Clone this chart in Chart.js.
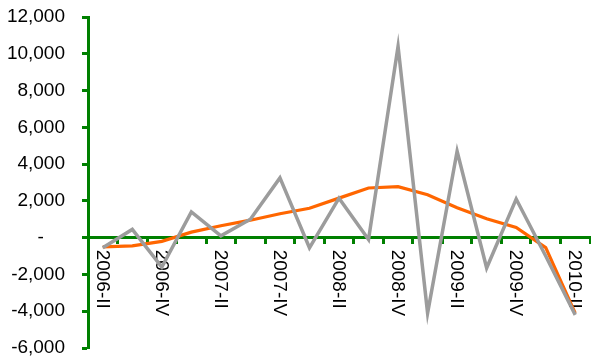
<!DOCTYPE html>
<html>
<head>
<meta charset="utf-8">
<script src="https://cdn.jsdelivr.net/npm/chart.js@4"></script>
<style>
    html, body { margin: 0; padding: 0; background: #fff; }
    #wrap { width: 591px; height: 357px; }
</style>
</head>
<body>
<div id="wrap"><canvas id="canvas"></canvas></div>
<script>
"use strict"

// quarters, only every second one gets a label on the axis
let quarters = [
    "2006-II", "2006-III", "2006-IV",
    "2007-I", "2007-II", "2007-III", "2007-IV",
    "2008-I", "2008-II", "2008-III", "2008-IV",
    "2009-I", "2009-II", "2009-III", "2009-IV",
    "2010-I", "2010-II"
];

let actual = [-550, 450, -1600, 1400, 100, 1000, 3250, -550, 2150, -100, 10400, -4100, 4700, -1650, 2100, -1000, -4200];
let trend = [-500, -450, -200, 300, 650, 950, 1300, 1600, 2150, 2700, 2770, 2330, 1630, 1030, 560, -540, -4100];

let yMin = -6000;
let yMax = 12000;
let yStep = 2000;

/* Colors */
let green = "#008000";
let orange = "#ff6600";
let gray = "#9c9c9c";
let fontFamily = "'Liberation Sans', Arial, sans-serif";


// x labels sit under the zero line, rotated to read top to bottom
// (drawn before the lines so the lines pass over them)
const quarterLabels = {
    id: "quarterLabels",
    beforeDatasetsDraw(chart) {
        const ctx = chart.ctx;
        const x = chart.scales.x;
        const y0 = chart.scales.y.getPixelForValue(0);
        ctx.save();
        ctx.fillStyle = "#000";
        ctx.font = "19px " + fontFamily;
        ctx.textAlign = "left";
        ctx.textBaseline = "middle";
        quarters.forEach((q, i) => {
            if (i % 2 !== 0) return;
            ctx.save();
            ctx.translate(x.getPixelForTick(i) - 1, y0 + 12);
            ctx.rotate(Math.PI / 2);
            ctx.fillText(q, 0, 0);
            ctx.restore();
        });
        ctx.restore();
    }
};


const myChart = new Chart(document.getElementById("canvas"), {
    type: "line",
    data: {
        labels: quarters,
        datasets: [{
            data: actual,
            borderColor: gray,
            borderWidth: 3.5,
            pointRadius: 0,
            tension: 0,
            clip: false,
            order: 0
        }, {
            data: trend,
            borderColor: orange,
            borderWidth: 3.2,
            pointRadius: 0,
            tension: 0,
            clip: false,
            order: 1
        }]
    },
    options: {
        responsive: true,
        maintainAspectRatio: false,
        animation: false,
        layout: {
            padding: { top: 0, bottom: 0, right: 1, left: 0 }
        },
        scales: {
            x: {
                position: { y: 0 },
                offset: true,
                afterFit: (scale) => { scale.height = 0; },
                grid: {
                    offset: true,
                    drawOnChartArea: false,
                    drawTicks: true,
                    tickLength: 5,
                    tickWidth: 3,
                    tickColor: green
                },
                border: { color: green, width: 3 },
                ticks: { display: false }
            },
            y: {
                min: yMin,
                max: yMax,
                afterFit: (scale) => {
                    scale.width = 88;
                    scale.paddingTop = 17;
                    scale.paddingBottom = 9;
                },
                grid: {
                    drawOnChartArea: false,
                    tickLength: 6,
                    tickWidth: 3,
                    tickColor: green
                },
                border: { color: green, width: 3 },
                ticks: {
                    stepSize: yStep,
                    padding: 17,
                    color: "#000",
                    font: { family: fontFamily, size: 19 },
                    callback: (v) => v === 0 ? "-    " : v.toLocaleString("en-US")
                }
            }
        },
        plugins: {
            legend: { display: false },
            tooltip: { enabled: false }
        }
    },
    plugins: [quarterLabels]
});
</script>
</body>
</html>
